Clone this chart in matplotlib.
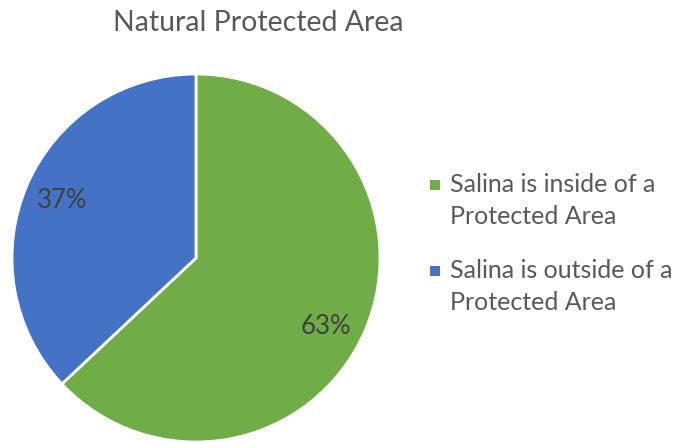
import matplotlib
matplotlib.use("Agg")
import matplotlib.pyplot as plt
from matplotlib.patches import Rectangle

plt.rcParams['font.family'] = 'Lato'

labels = ["Salina is inside of a\nProtected Area", "Salina is outside of a\nProtected Area"]
shares = [63, 37]
colors = ["#70AD47", "#4472C4"]
title = "Natural Protected Area"

W, H = 683, 442
fig = plt.figure(figsize=(W / 100, H / 100), dpi=100)

# pie centre at (196, 258) px from top-left, radius ~184 px
cx, cy, r = 196, H - 258, 184
ax = fig.add_axes([(cx - r) / W, (cy - r) / H, 2 * r / W, 2 * r / H])
wedges, texts, autotexts = ax.pie(
    shares, colors=colors, startangle=90, counterclock=False,
    autopct="%d%%", pctdistance=0.79,
    wedgeprops=dict(edgecolor="white", linewidth=2),
    textprops=dict(color="#404040", fontsize=18.5))
# excel puts the big slice label a little lower
x0, y0 = autotexts[0].get_position()
autotexts[0].set_position((x0 - 0.02, y0 - 0.06))
ax.set_xlim(-1, 1)
ax.set_ylim(-1, 1)
ax.set_aspect("equal")
ax.axis("off")

fig.text(258 / W, 1 - 23 / H, title, ha="center", va="center",
         fontsize=20.5, color="#595959")

# legend: square marker aligned with first line of each label
first_line_y = [185, 271]
for lab, col, yy in zip(labels, colors, first_line_y):
    fig.patches.append(Rectangle(((430) / W, 1 - (yy + 5) / H), 10 / W, 10 / H,
                                 transform=fig.transFigure, facecolor=col,
                                 edgecolor="none"))
    fig.text(450 / W, 1 - (yy - 12) / H, lab, ha="left", va="top",
             fontsize=18, color="#595959", linespacing=1.5)

fig.savefig("out.png", dpi=100)
